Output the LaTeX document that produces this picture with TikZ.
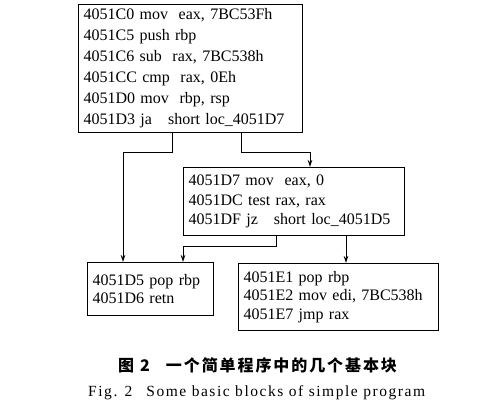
\documentclass[tikz,border=0pt]{standalone}
\usepackage{fontspec}
\setmainfont{Liberation Serif}
\newfontfamily\cjk{Noto Sans CJK SC}
\usetikzlibrary{arrows.meta}
\begin{document}
\begin{tikzpicture}[x=1pt,y=-1pt,
  blk/.style={draw, line width=1.2pt, anchor=north west, inner xsep=5pt, inner ysep=0pt,
    align=left, font=\fontsize{16}{21}\selectfont},
  arr/.style={line width=1pt, -{Stealth[length=7pt,width=4.5pt]}}]
\useasboundingbox (0,0) rectangle (497,412);
\node[blk, minimum width=224pt, minimum height=128pt, text width=214pt] (b1) at (78,4)
  {4051C0 mov\ \ eax, 7BC53Fh\\4051C5 push rbp\\4051C6 sub\ \ rax, 7BC538h\\4051CC cmp\ \ rax, 0Eh\\4051D0 mov\ \ rbp, rsp\\4051D3 ja\ \ \ short loc\_4051D7};
\node[blk, minimum width=221pt, minimum height=68pt, text width=211pt,
  font=\fontsize{16}{19.5}\selectfont] (b2) at (183,167)
  {4051D7 mov\ \ eax, 0\\4051DC test rax, rax\\4051DF jz\ \ \ short loc\_4051D5};
\node[blk, minimum width=126pt, minimum height=53pt, text width=116pt,
  font=\fontsize{16}{18}\selectfont] (b3) at (87,262)
  {4051D5 pop rbp\\4051D6 retn};
\node[blk, minimum width=200pt, minimum height=67pt, text width=190pt,
  font=\fontsize{16}{18.5}\selectfont] (b4) at (238,263)
  {4051E1 pop rbp\\4051E2 mov edi, 7BC538h\\4051E7 jmp rax};
\coordinate (c1) at (172,152);
\coordinate (c2) at (241,152);
\coordinate (c3) at (276,246);
\coordinate (x3a) at (123,0);
\coordinate (x2) at (310,0);
\coordinate (x3b) at (183,0);
\coordinate (x4) at (346,0);
\draw[arr] (c1 |- b1.south) -- (c1) -| (x3a |- b3.north);
\draw[arr] (c2 |- b1.south) -- (c2) -| (x2 |- b2.north);
\draw[arr] (c3 |- b2.south) -- (c3) -| (x3b |- b3.north);
\draw[arr] (x4 |- b2.south) -- (x4 |- b4.north);
\node[anchor=west, inner sep=0pt, font=\cjk\bfseries\fontsize{16}{18}\selectfont] (cap1) at (118,365)
  {图\hspace{6pt}2\hspace{16pt}\addfontfeatures{LetterSpace=12}一个简单程序中的几个基本块};
\node[anchor=west, inner sep=0pt, font=\fontsize{15.5}{18}\selectfont\addfontfeatures{LetterSpace=10}] (cap2) at (88,393)
  {Fig. 2\hspace{14pt}Some basic blocks of simple program};
\end{tikzpicture}
\end{document}
